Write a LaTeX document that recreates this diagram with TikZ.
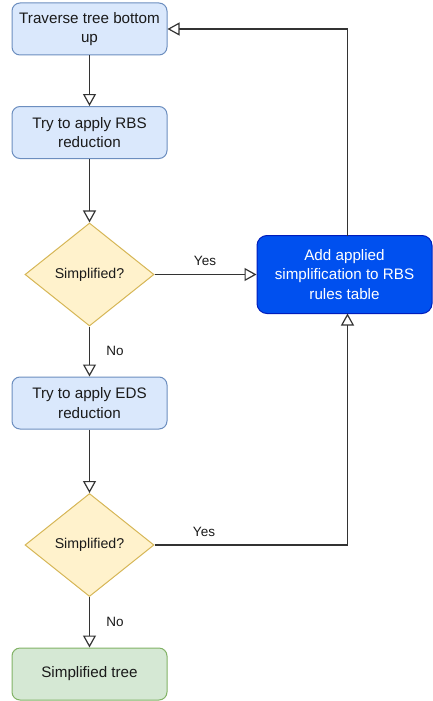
\documentclass[tikz,border=0pt]{standalone}
\usepackage{fontspec}
\setmainfont{Liberation Sans}
\usetikzlibrary{shapes.geometric,arrows.meta}
\definecolor{bluefill}{HTML}{DAE8FC}
\definecolor{blueline}{HTML}{6C8EBF}
\definecolor{yelfill}{HTML}{FFF2CC}
\definecolor{yelline}{HTML}{D6B656}
\definecolor{grnfill}{HTML}{D5E8D4}
\definecolor{grnline}{HTML}{82B366}
\definecolor{strongfill}{HTML}{0050EF}
\definecolor{strongline}{HTML}{001DBC}
\definecolor{txt}{HTML}{1A1A1A}
\definecolor{edge}{HTML}{333333}
\tikzset{
  procbox/.style={rectangle, rounded corners=8pt, draw=blueline, fill=bluefill, line width=1pt,
    minimum width=155pt, minimum height=52pt, inner sep=0pt, align=center, text=txt,
    font=\fontsize{15.2}{19.5}\selectfont},
  endbox/.style={procbox, draw=grnline, fill=grnfill},
  strongbox/.style={procbox, draw=strongline, fill=strongfill, text=white,
    minimum width=175pt, minimum height=78pt, rounded corners=10pt},
  decision/.style={diamond, draw=yelline, fill=yelfill, line width=1pt, aspect=1.25,
    minimum width=129pt, minimum height=103pt, inner sep=0pt, text=txt,
    font=\fontsize{14.2}{18}\selectfont},
  flow/.style={draw=edge, line width=1.3pt, -{Triangle[open, length=12pt, width=13pt, line width=1.2pt]}},
  lbl/.style={text=txt, font=\fontsize{13.5}{16}\selectfont, inner sep=0pt}
}
\begin{document}
\begin{tikzpicture}[x=1pt,y=-1pt]
\useasboundingbox (0,0) rectangle (433,701);
\node[procbox] (b1) at (89.5,29) {Traverse tree bottom\\up};
\node[procbox] (b2) at (89.5,132.5) {Try to apply RBS\\reduction};
\node[decision] (d1) at (89.5,274.5) {Simplified?};
\node[strongbox] (add) at (344.5,274.5) {Add applied\\simplification to RBS\\rules table};
\node[procbox] (b3) at (89.5,403) {Try to apply EDS\\reduction};
\node[decision] (d2) at (89.5,545) {Simplified?};
\node[endbox] (fin) at (89.5,674) {Simplified tree};

\coordinate (topc) at (347.5,29);
\coordinate (botc) at (347.5,545);
\coordinate (addtop) at (347.5,235.5);
\coordinate (addbot) at (347.5,313.5);

\draw[flow] (b1) -- (b2);
\draw[flow] (b2) -- (d1);
\draw[flow] (d1.east) -- (add.west);
\draw[flow] (d1) -- (b3);
\draw[flow] (b3) -- (d2);
\draw[flow] (d2) -- (fin);
\draw[flow] (d2.east) -- (botc) -- (addbot);
\draw[flow] (addtop) -- (topc) -- (b1.east);

\node[lbl] (y1) at (205,261) {Yes};
\node[lbl] (n1) at (115,351) {No};
\node[lbl] (y2) at (204,532) {Yes};
\node[lbl] (n2) at (115,622) {No};
\end{tikzpicture}
\end{document}
